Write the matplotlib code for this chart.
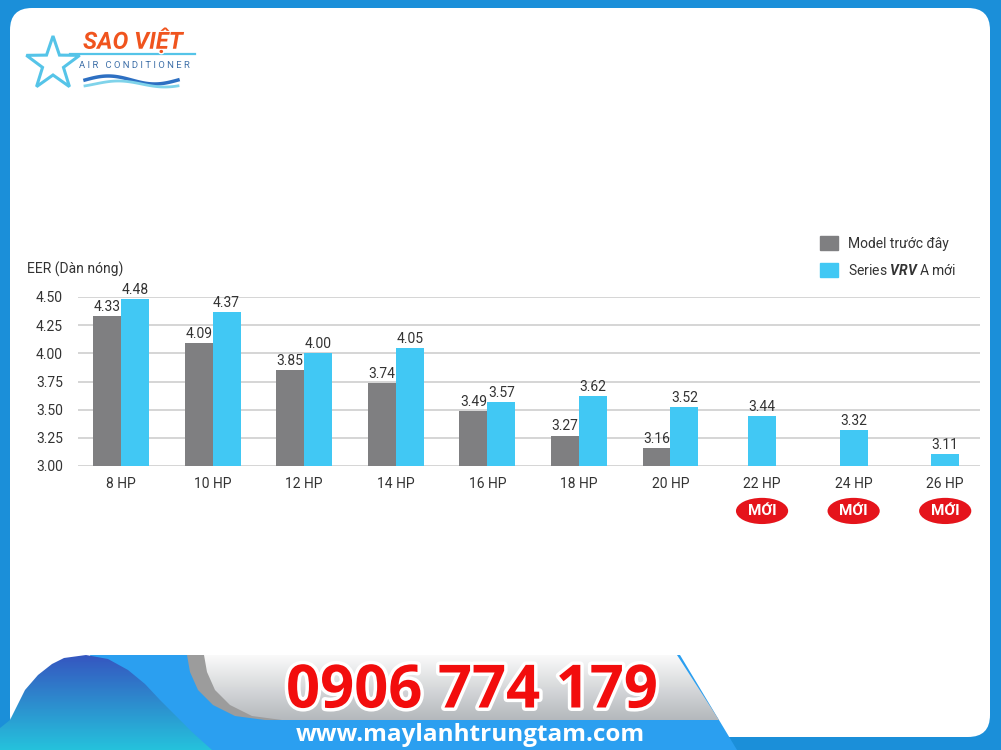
import numpy as np
import matplotlib
matplotlib.use('Agg')
import matplotlib.pyplot as plt
from matplotlib.patches import Polygon, FancyBboxPatch, Ellipse, Patch
import matplotlib.patheffects as pe

plt.rcParams['font.family'] = ['Roboto', 'DejaVu Sans']
plt.rcParams['mathtext.fontset'] = 'custom'
plt.rcParams['mathtext.bfit'] = 'Roboto:bold:italic'

# data
categories = ['8 HP', '10 HP', '12 HP', '14 HP', '16 HP', '18 HP', '20 HP', '22 HP', '24 HP', '26 HP']
model_old = [4.33, 4.09, 3.85, 3.74, 3.49, 3.27, 3.16, None, None, None]
series_new = [4.48, 4.37, 4.00, 4.05, 3.57, 3.62, 3.52, 3.44, 3.32, 3.11]
new_models = ['22 HP', '24 HP', '26 HP']
y_ticks = [3.00, 3.25, 3.50, 3.75, 4.00, 4.25, 4.50]

GRAY = '#7f7f81'
BLUE = '#41c8f4'
TXT = '#333333'
RED = '#e5141b'

W, H = 1001, 750
fig = plt.figure(figsize=(W / 100, H / 100), dpi=100)
fig.patch.set_facecolor('#1b8fd9')

# background / decoration axes in pixel coords
bg = fig.add_axes([0, 0, 1, 1])
bg.set_xlim(0, W)
bg.set_ylim(H, 0)
bg.axis('off')


def grad_fill(verts, c_top, c_bot, y0, y1, z):
    poly = Polygon(verts, closed=True, fc='none', ec='none')
    bg.add_patch(poly)
    c1 = np.array(matplotlib.colors.to_rgb(c_top))
    c2 = np.array(matplotlib.colors.to_rgb(c_bot))
    t = np.linspace(0, 1, 100)[:, None]
    img = (c1 * (1 - t) + c2 * t)[:, None, :]
    im = bg.imshow(img, extent=(0, W, y1, y0), aspect='auto', zorder=z)
    im.set_clip_path(poly)


panel = FancyBboxPatch((10, 8), 980, 729, boxstyle='round,pad=0,rounding_size=22',
                       fc='white', ec='none', zorder=0)
bg.add_patch(panel)

# footer banner
bg.add_patch(Polygon([(90, 655), (680, 655), (737, 750), (120, 750)], fc='#2b9ff0', ec='none', zorder=1))
banner = [(204, 655), (677, 655), (719, 720), (282, 720), (252, 716),
          (230, 705), (215, 690), (207, 672)]
shadow = [(x - 17, y) for x, y in banner]
bg.add_patch(Polygon(shadow, fc='#9c9c9c', ec='none', zorder=2))
grad_fill(banner, '#fafafa', '#b4b8bc', 655, 720, 3)
mountain = [(0, 750), (0, 728), (10, 720), (25, 690), (38, 675), (52, 664), (64, 658),
            (86, 655), (108, 659), (128, 670), (145, 684), (160, 700), (176, 716),
            (192, 732), (212, 750)]
grad_fill(mountain, '#3556c0', '#25c2dc', 655, 750, 4)

bg.text(472, 692, '0906 774 179', ha='center', va='center', fontsize=43,
        fontweight='bold', family='Open Sans', color='#f20d0d', zorder=6,
        path_effects=[pe.withStroke(linewidth=5, foreground='white')])
bg.text(470, 735, 'www.maylanhtrungtam.com', ha='center', va='center', fontsize=17.5,
        fontweight='bold', family='Open Sans', color='white', zorder=6)

# logo
ang = np.deg2rad(90 + np.arange(10) * 36)
rad = np.where(np.arange(10) % 2 == 0, 28, 11)
star = np.column_stack([53 + rad * np.cos(ang), 64 - rad * np.sin(ang)])
bg.add_patch(Polygon(star, fc='none', ec='#55c4e8', lw=2.2, zorder=2))
bg.plot([70, 195], [54, 54], color='#55c4e8', lw=1.6, zorder=2)
bg.text(133, 41, 'SAO VIỆT', ha='center', va='center', fontsize=17, fontweight='bold',
        style='italic', color='#f0541e', zorder=3,
        path_effects=[pe.withStroke(linewidth=2, foreground='white')])
bg.text(134, 66, 'A I R   C O N D I T I O N E R', ha='center', va='center', fontsize=6.8,
        color='#3d6fa8', zorder=3)
xw = np.linspace(85, 178, 60)
bg.plot(xw, 80 - 4 * np.sin((xw - 85) / 93 * 2 * np.pi), color='#2d6fc2', lw=2.5, zorder=3)
bg.plot(xw, 84 - 3 * np.sin((xw - 95) / 93 * 2 * np.pi), color='#7fd3ea', lw=2, zorder=3)

# chart axes
ax = fig.add_axes([78 / W, 1 - 466 / H, 902 / W, 169 / H])
ax.set_zorder(5)
ax.set_facecolor('none')

x = np.arange(len(categories))
bw = 0.305
for i, (o, n) in enumerate(zip(model_old, series_new)):
    if o is None:
        ax.bar(i, n, width=bw, color=BLUE, zorder=3)
        ax.annotate(f'{n:.2f}', (i, n), xytext=(0, 1.5), textcoords='offset points',
                    ha='center', va='bottom', fontsize=10, color=TXT)
    else:
        ax.bar(i - bw / 2, o, width=bw, color=GRAY, zorder=3)
        ax.bar(i + bw / 2, n, width=bw, color=BLUE, zorder=3)
        ax.annotate(f'{o:.2f}', (i - bw / 2, o), xytext=(0, 1.5), textcoords='offset points',
                    ha='center', va='bottom', fontsize=10, color=TXT)
        ax.annotate(f'{n:.2f}', (i + bw / 2, n), xytext=(0, 1.5), textcoords='offset points',
                    ha='center', va='bottom', fontsize=10, color=TXT)

ax.set_xlim(-0.47, 9.38)
ax.set_ylim(3.0, 4.5)
ax.set_yticks(y_ticks)
ax.set_yticklabels([f'{v:.2f}' for v in y_ticks])
ax.set_xticks(x)
ax.set_xticklabels(categories)
ax.tick_params(axis='both', length=0, labelsize=10, labelcolor=TXT)
ax.tick_params(axis='y', pad=11)
ax.tick_params(axis='x', pad=8)
ax.grid(axis='y', color='#d2d2d2', lw=1.3, zorder=0)
for s in ax.spines.values():
    s.set_visible(False)

# "MỚI" badges
for name in new_models:
    i = categories.index(name)
    ax.add_patch(Ellipse((i, -0.266), 0.57, 0.155, transform=ax.get_xaxis_transform(),
                         fc=RED, ec='none', clip_on=False))
    ax.text(i, -0.266, 'MỚI', transform=ax.get_xaxis_transform(), ha='center', va='center',
            fontsize=11, fontweight='bold', color='white', clip_on=False)

bg.text(27, 269, 'EER (Dàn nóng)', ha='left', va='center', fontsize=10, color=TXT, zorder=6)

handles = [Patch(color=GRAY), Patch(color=BLUE)]
labels = ['Model trước đây', r'Series $\mathbfit{VRV}$ A mới']
fig.legend(handles, labels, loc='upper left', bbox_to_anchor=(820 / W, 1 - 236 / H),
           frameon=False, fontsize=10, handlelength=1.3, handleheight=1.22,
           handletextpad=0.75, labelspacing=0.85, borderpad=0, borderaxespad=0,
           labelcolor=TXT)

fig.savefig('out.png', dpi=100, facecolor=fig.get_facecolor())
